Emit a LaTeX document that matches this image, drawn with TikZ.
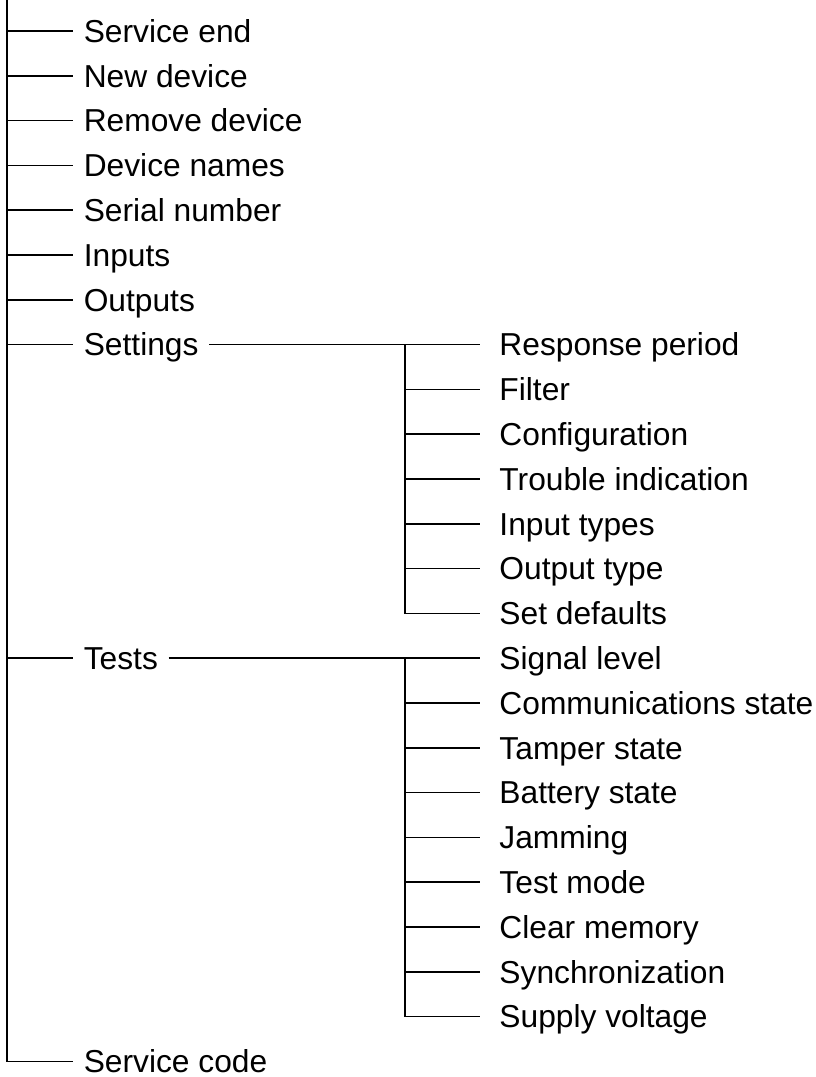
\documentclass[tikz,border=0pt]{standalone}
\usepackage{fontspec}
\setmainfont{Liberation Sans}
\usetikzlibrary{positioning}

\begin{document}
\begin{tikzpicture}[x=0.75pt, y=-0.75pt, line width=1.2pt,
    entry/.style={anchor=west, inner xsep=7.5pt, inner ysep=0pt, text height=17pt, text depth=0pt, font=\fontsize{23.8}{28}\selectfont},
    subentry/.style={entry, inner xsep=14pt}]
      \useasboundingbox (0,0) rectangle (816,1077);

      % first level
      \coordinate (top) at (7,0);
      \node[entry] (srvend) at (73,31.0) {Service end};
      \node[entry] (newdev) at (73,75.8) {New device};
      \node[entry] (remdev) at (73,120.6) {Remove device};
      \node[entry] (names) at (73,165.4) {Device names};
      \node[entry] (serial) at (73,210.2) {Serial number};
      \node[entry] (inputs) at (73,255.0) {Inputs};
      \node[entry] (outputs) at (73,299.8) {Outputs};
      \node[entry] (settings) at (73,344.6) {Settings};
      \node[entry] (tests) at (73,658.2) {Tests};
      \node[entry] (srvcode) at (73,1061.4) {Service code};

      % settings
      \coordinate (s_j) at (405,344.6);
      \node[subentry] (s_1) at (480,344.6) {Response period};
      \node[subentry] (s_2) at (480,389.4) {Filter};
      \node[subentry] (s_3) at (480,434.2) {Configuration};
      \node[subentry] (s_4) at (480,479.0) {Trouble indication};
      \node[subentry] (s_5) at (480,523.8) {Input types};
      \node[subentry] (s_6) at (480,568.6) {Output type};
      \node[subentry] (s_7) at (480,613.4) {Set defaults};

      % tests
      \coordinate (t_j) at (405,658.2);
      \node[subentry] (t_1) at (480,658.2) {Signal level};
      \node[subentry] (t_2) at (480,703.0) {Communications state};
      \node[subentry] (t_3) at (480,747.8) {Tamper state};
      \node[subentry] (t_4) at (480,792.6) {Battery state};
      \node[subentry] (t_5) at (480,837.4) {Jamming};
      \node[subentry] (t_6) at (480,882.2) {Test mode};
      \node[subentry] (t_7) at (480,927.0) {Clear memory};
      \node[subentry] (t_8) at (480,971.8) {Synchronization};
      \node[subentry] (t_9) at (480,1016.6) {Supply voltage};

      \draw (top) |- (srvcode.west);
      \foreach \n in {srvend, newdev, remdev, names, serial, inputs, outputs, settings, tests}
        \draw (top |- \n.west) -- (\n.west);

      \draw (settings.east) -- (s_1.west);
      \draw (s_j) |- (s_7.west);
      \foreach \n in {2,...,6}
        \draw (s_j |- s_\n.west) -- (s_\n.west);

      \draw (tests.east) -- (t_1.west);
      \draw (t_j) |- (t_9.west);
      \foreach \n in {2,...,8}
        \draw (t_j |- t_\n.west) -- (t_\n.west);
\end{tikzpicture}
\end{document}
